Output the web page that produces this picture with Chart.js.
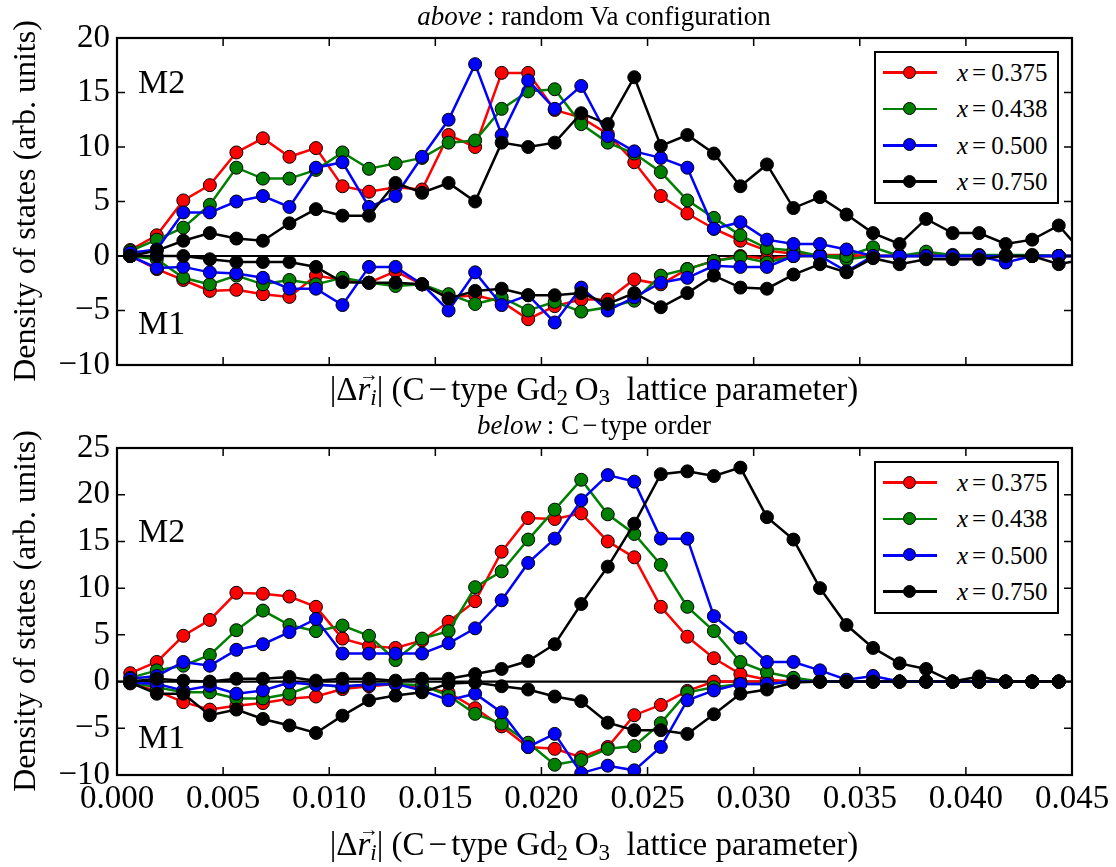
<!DOCTYPE html>
<html>
<head>
<meta charset="utf-8">
<title>Density of states</title>
<script src="https://cdn.jsdelivr.net/npm/chart.js@4.4.1/dist/chart.umd.min.js"></script>
<style>
  html, body { margin: 0; padding: 0; background: #fff; }
  body { position: relative; width: 1116px; height: 867px; overflow: hidden;
         font-family: "Liberation Serif", "Times New Roman", serif; color: #000; }
  canvas { position: absolute; left: 0; }
  .txt { position: absolute; white-space: nowrap; line-height: 1; }
  .title { font-size: 27px; transform: translateX(-50%); }
  .xlab { font-size: 33px; transform: translateX(-50%); }
  .ylab { font-size: 32px; transform: translate(-50%, -50%) rotate(-90deg); }
  .site { font-size: 34px; }
  .s { font-size: 0.7em; position: relative; top: 0.22em; }
  .op { margin: 0 0.12em; }
  .vec { position: relative; display: inline-block; }
  .arr { position: absolute; left: 0.08em; top: -0.42em; font-size: 0.6em; }
  .legend { position: absolute; width: 185px; height: 153px; box-sizing: border-box;
            border: 2px solid #000; background: #fff; }
  .row { position: absolute; left: 0; height: 30px; width: 100%; }
  .row .ln { position: absolute; left: 7px; width: 54px; top: 13.75px; height: 2.5px; }
  .row .dot { position: absolute; left: 27px; top: 8px; width: 13px; height: 13px; border-radius: 50%;
              border: 1px solid #000; box-sizing: border-box; }
  .row .lt { position: absolute; left: 81px; top: 0; height: 30px; display: flex; align-items: center;
             font-size: 25px; line-height: 1; }
  .row .eq { margin: 0 5px 0 4px; }
</style>
</head>
<body>
<canvas id="randomChart" width="1116" height="420" style="top:0;width:1116px;height:420px"></canvas>
<canvas id="orderedChart" width="1116" height="447" style="top:420px;width:1116px;height:447px"></canvas>

<div class="txt title" style="left:594px;top:3px"><i>above</i>&thinsp;: random Va configuration</div>
<div class="txt xlab" style="left:594px;top:373px">|Δ<span class="vec"><i>r</i><span class="arr">→</span></span><span class="s"><i>i</i></span>| (C<span class="op">−</span>type Gd<span class="s">2</span>&thinsp;O<span class="s">3</span>&nbsp; lattice parameter)</div>
<div class="txt title" style="left:594px;top:412px"><i>below</i>&thinsp;: C<span class="op">−</span>type order</div>
<div class="txt xlab" style="left:594px;top:828px">|Δ<span class="vec"><i>r</i><span class="arr">→</span></span><span class="s"><i>i</i></span>| (C<span class="op">−</span>type Gd<span class="s">2</span>&thinsp;O<span class="s">3</span>&nbsp; lattice parameter)</div>
<div class="txt ylab" style="left:24px;top:201px">Density of states (arb. units)</div>
<div class="txt ylab" style="left:24px;top:611px">Density of states (arb. units)</div>
<div class="txt site" style="left:138px;top:65px">M2</div>
<div class="txt site" style="left:138px;top:306px">M1</div>
<div class="txt site" style="left:138px;top:514px">M2</div>
<div class="txt site" style="left:138px;top:720px">M1</div>
<div class="legend" id="legendRandom" style="left:874px;top:51px"></div>
<div class="legend" id="legendOrdered" style="left:874px;top:461px"></div>

<script>
// Bin centres of |Δr_i| (units of the C-type Gd2O3 lattice parameter)
const binCenters = [0.000625, 0.001875, 0.003125, 0.004375, 0.005625, 0.006875, 0.008125, 0.009375,
  0.010625, 0.011875, 0.013125, 0.014375, 0.015625, 0.016875, 0.018125, 0.019375, 0.020625, 0.021875,
  0.023125, 0.024375, 0.025625, 0.026875, 0.028125, 0.029375, 0.030625, 0.031875, 0.033125, 0.034375,
  0.035625, 0.036875, 0.038125, 0.039375, 0.040625, 0.041875, 0.043125, 0.044375, 0.045625];

// Compositions shown in the legends
const concentrations = ['0.375', '0.438', '0.500', '0.750'];

// Axis ticks
const xTicks = [0, 0.005, 0.01, 0.015, 0.02, 0.025, 0.03, 0.035, 0.04, 0.045];
const yTicksRandom = [-10, -5, 0, 5, 10, 15, 20];
const yTicksOrdered = [-10, -5, 0, 5, 10, 15, 20, 25];

// Random Va configuration: M2 sites (positive) and M1 sites (plotted negative)
const randomM2_375 = [0.55, 1.9, 5.1, 6.5, 9.5, 10.8, 9.1, 9.9, 6.4, 5.9, 6.3, 6.1, 11.1, 10.0, 16.8, 16.8, 13.4, 12.7, 11.2, 8.6, 5.5, 3.9, 2.5, 1.4, 0.5, 0.2, 0.1, 0.1, 0.0, 0.0, 0.1, 0.0, 0.0, 0.0, 0.0, 0.0, 0.0];
const randomM2_438 = [0.46, 1.5, 2.6, 4.7, 8.1, 7.1, 7.1, 7.9, 9.5, 8.0, 8.5, 9.0, 10.4, 10.6, 13.5, 15.1, 15.3, 12.1, 10.4, 9.4, 7.7, 5.1, 3.5, 1.9, 0.7, 0.5, 0.0, 0.0, 0.8, 0.0, 0.4, 0.1, 0.1, 0.1, 0.1, 0.0, 0.0];
const randomM2_500 = [0.3, 0.6, 4.0, 4.0, 5.0, 5.5, 4.5, 8.1, 8.6, 4.5, 5.5, 9.1, 12.5, 17.6, 11.1, 16.1, 13.5, 15.6, 11.0, 9.6, 9.0, 8.1, 2.5, 3.1, 1.5, 1.1, 1.1, 0.6, 0.0, 0.0, 0.0, 0.0, 0.0, 0.0, 0.0, 0.0, 0.0];
const randomM2_750 = [0.0, 0.5, 1.4, 2.1, 1.6, 1.4, 3.0, 4.3, 3.7, 3.7, 6.7, 5.8, 6.7, 5.0, 10.4, 10.0, 10.4, 13.1, 12.1, 16.4, 10.1, 11.1, 9.4, 6.4, 8.4, 4.4, 5.4, 3.8, 2.1, 1.1, 3.4, 2.1, 2.1, 1.1, 1.5, 2.8, 0.0];
const randomM1_375 = [0.0, -1.2, -2.2, -3.2, -3.1, -3.5, -3.75, -1.8, -2.2, -2.45, -1.4, -2.6, -3.8, -3.6, -4.2, -5.8, -4.6, -4.0, -4.0, -2.15, -2.6, -1.2, -0.45, 0.0, -0.25, 0.0, 0.0, 0.0, 0.0, 0.0, 0.0, 0.0, 0.0, 0.0, 0.0, 0.0, 0.0];
const randomM1_438 = [0.0, -0.3, -2.0, -2.6, -1.8, -2.6, -2.2, -2.6, -2.0, -2.45, -2.75, -2.6, -3.5, -4.4, -3.8, -5.0, -4.2, -5.1, -4.7, -4.1, -1.8, -1.2, -0.45, -0.1, -0.6, 0.0, 0.0, -0.3, 0.0, 0.0, 0.0, 0.0, 0.0, 0.0, 0.0, 0.0, 0.0];
const randomM1_500 = [0.0, -1.1, -1.0, -1.5, -1.6, -2.0, -3.0, -3.0, -4.5, -1.0, -1.0, -2.6, -5.0, -1.5, -4.5, -3.6, -6.1, -2.9, -5.0, -3.8, -2.45, -2.0, -0.9, -1.0, -1.0, 0.0, 0.0, -1.4, 0.0, 0.0, 0.0, 0.0, 0.0, -0.6, 0.0, 0.0, 0.0];
const randomM1_750 = [0.0, 0.0, 0.0, -0.3, -0.55, -0.55, -0.55, -1.0, -2.4, -2.45, -2.45, -2.6, -3.9, -3.2, -3.0, -3.6, -3.6, -3.4, -4.4, -3.4, -4.7, -3.4, -1.8, -2.9, -3.0, -1.7, -0.75, -1.5, -0.2, -0.75, -0.3, -0.3, -0.3, 0.0, 0.0, -0.75, -0.3];

// C-type order: M2 sites (positive) and M1 sites (plotted negative)
const orderedM2_375 = [0.9, 2.1, 4.9, 6.6, 9.5, 9.4, 9.1, 8.0, 4.6, 3.8, 3.6, 4.4, 6.4, 8.6, 13.9, 17.5, 17.4, 18.0, 15.0, 13.3, 8.0, 4.8, 2.5, 0.8, 0.2, 0.0, 0.0, 0.0, 0.0, 0.0, 0.0, 0.0, 0.0, 0.0, 0.0, 0.0];
const orderedM2_438 = [0.4, 1.2, 1.7, 2.85, 5.5, 7.6, 6.05, 5.4, 6.0, 4.9, 2.3, 4.6, 5.4, 10.1, 11.8, 15.2, 18.4, 21.6, 17.9, 15.8, 12.5, 8.0, 5.4, 2.1, 1.0, 0.4, 0.0, 0.0, 0.0, 0.0, 0.0, 0.0, 0.0, 0.0, 0.0, 0.0];
const orderedM2_500 = [0.3, 0.6, 2.1, 1.7, 3.4, 4.0, 5.3, 6.7, 3.0, 3.0, 3.0, 3.0, 4.1, 5.7, 8.7, 12.7, 15.3, 19.4, 22.1, 21.4, 15.3, 15.3, 7.0, 4.7, 2.1, 2.1, 1.2, 0.2, 0.6, 0.0, 0.0, 0.0, 0.0, 0.0, 0.0, 0.0];
const orderedM2_750 = [0.0, 0.3, 0.1, 0.0, 0.3, 0.3, 0.5, 0.1, 0.3, 0.3, 0.1, 0.3, 0.3, 0.8, 1.35, 2.2, 4.0, 8.3, 12.3, 16.9, 22.2, 22.5, 22.0, 22.9, 17.6, 15.2, 10.0, 6.05, 3.6, 1.95, 1.35, 0.0, 0.55, 0.0, 0.0, 0.0];
const orderedM1_375 = [-0.2, -1.0, -2.2, -3.0, -2.6, -2.3, -1.85, -1.6, -0.8, -0.5, -0.25, -0.6, -1.2, -2.85, -4.8, -7.0, -7.2, -8.1, -7.0, -3.6, -2.5, -1.0, 0.0, 0.0, 0.0, 0.0, 0.0, 0.0, 0.0, 0.0, 0.0, 0.0, 0.0, 0.0, 0.0, 0.0];
const orderedM1_438 = [-0.1, -0.6, -1.15, -1.15, -1.8, -1.8, -1.3, -0.25, -0.6, -0.25, -0.25, -0.4, -1.5, -3.45, -4.5, -6.55, -8.9, -8.4, -7.2, -6.9, -4.45, -1.15, -0.6, -0.25, -0.25, 0.0, 0.0, 0.0, 0.0, 0.0, 0.0, 0.0, 0.0, 0.0, 0.0, 0.0];
const orderedM1_500 = [-0.1, -0.25, -0.95, -0.45, -1.3, -0.95, -0.1, -0.35, -0.5, -0.35, -0.25, -0.95, -2.0, -1.3, -3.3, -7.0, -5.6, -9.8, -9.0, -9.5, -7.0, -2.0, -0.95, -0.25, -0.25, 0.0, 0.0, 0.0, 0.0, 0.0, 0.0, 0.0, 0.0, 0.0, 0.0, 0.0];
const orderedM1_750 = [-0.1, -1.3, -1.3, -3.6, -3.0, -4.0, -4.7, -5.5, -3.65, -2.0, -1.5, -1.15, -0.2, -0.1, -0.5, -0.85, -1.6, -2.1, -4.4, -5.2, -5.2, -5.6, -3.5, -1.3, -0.85, -0.1, 0.0, 0.0, 0.0, 0.0, 0.0, 0.0, 0.0, 0.0, 0.0, 0.0];

// Styling
const lineColors = ['#ff0000', '#008000', '#0000ff', '#000000'];
const serif = "'Liberation Serif', 'Times New Roman', serif";
Chart.defaults.font.family = serif;
Chart.defaults.color = '#000';

function toPoints(values) {
  return values.map((v, i) => ({ x: binCenters[i], y: v }));
}

function buildDatasets(m2Series, m1Series) {
  const sets = [];
  [['M2', m2Series], ['M1', m1Series]].forEach(([site, group]) => {
    group.forEach((values, k) => {
      sets.push({
        label: site + ' x=' + concentrations[k],
        data: toPoints(values),
        borderColor: lineColors[k],
        backgroundColor: lineColors[k],
        pointBackgroundColor: lineColors[k],
        pointBorderColor: '#000',
        pointBorderWidth: 1,
        pointRadius: 6.5,
        borderWidth: 2.5,
        tension: 0,
        clip: 1,
        order: 4 - k
      });
    });
  });
  return sets;
}

// Zero line under the data, then a boxed frame with inward ticks on all four sides
const frameTicks = {
  id: 'frameTicks',
  beforeDatasetsDraw(chart) {
    const { ctx, chartArea: a, scales: { y } } = chart;
    const y0 = y.getPixelForValue(0);
    ctx.save();
    ctx.strokeStyle = '#000';
    ctx.lineWidth = 2.2;
    ctx.beginPath();
    ctx.moveTo(a.left, y0);
    ctx.lineTo(a.right, y0);
    ctx.stroke();
    ctx.restore();
  },
  afterDatasetsDraw(chart) {
    const { ctx, chartArea: a, scales: { x, y } } = chart;
    const len = 8;
    ctx.save();
    ctx.strokeStyle = '#000';
    ctx.lineWidth = 1.5;
    ctx.beginPath();
    x.ticks.forEach(t => {
      const px = x.getPixelForValue(t.value);
      ctx.moveTo(px, a.top); ctx.lineTo(px, a.top + len);
      ctx.moveTo(px, a.bottom); ctx.lineTo(px, a.bottom - len);
    });
    y.ticks.forEach(t => {
      const py = y.getPixelForValue(t.value);
      ctx.moveTo(a.left, py); ctx.lineTo(a.left + len, py);
      ctx.moveTo(a.right, py); ctx.lineTo(a.right - len, py);
    });
    ctx.stroke();
    ctx.lineWidth = 2.2;
    ctx.strokeRect(a.left, a.top, a.right - a.left, a.bottom - a.top);
    ctx.restore();
  }
};

function makeChart(id, datasets, yTicks, showXLabels, padTop, xAxisHeight) {
  return new Chart(document.getElementById(id), {
    type: 'line',
    data: { datasets },
    plugins: [frameTicks],
    options: {
      responsive: false,
      animation: false,
      events: [],
      layout: { padding: { top: padTop, right: 44, bottom: 0, left: 0 } },
      plugins: { legend: { display: false }, tooltip: { enabled: false }, title: { display: false } },
      scales: {
        x: {
          type: 'linear',
          min: xTicks[0],
          max: xTicks[xTicks.length - 1],
          afterBuildTicks: s => { s.ticks = xTicks.map(v => ({ value: v })); },
          afterFit: s => { s.height = xAxisHeight; },
          grid: { display: false, drawTicks: false },
          border: { display: false },
          ticks: {
            display: showXLabels,
            autoSkip: false,
            maxRotation: 0,
            padding: 5,
            font: { family: serif, size: 33 },
            color: '#000',
            callback: v => Number(v).toFixed(3)
          }
        },
        y: {
          min: yTicks[0],
          max: yTicks[yTicks.length - 1],
          afterBuildTicks: s => { s.ticks = yTicks.map(v => ({ value: v })); },
          afterFit: s => { s.width = 117; },
          grid: { display: false, drawTicks: false },
          border: { display: false },
          ticks: {
            padding: 7,
            font: { family: serif, size: 33 },
            color: '#000',
            callback: v => (v < 0 ? '\u2212' + Math.abs(v) : String(v))
          }
        }
      }
    }
  });
}

makeChart('randomChart',
  buildDatasets([randomM2_375, randomM2_438, randomM2_500, randomM2_750],
                [randomM1_375, randomM1_438, randomM1_500, randomM1_750]),
  yTicksRandom, false, 38, 55);

makeChart('orderedChart',
  buildDatasets([orderedM2_375, orderedM2_438, orderedM2_500, orderedM2_750],
                [orderedM1_375, orderedM1_438, orderedM1_500, orderedM1_750]),
  yTicksOrdered, true, 28, 92);

// Legends: one row per composition
function fillLegend(id) {
  const box = document.getElementById(id);
  concentrations.forEach((c, k) => {
    const row = document.createElement('div');
    row.className = 'row';
    row.style.top = (4.5 + k * 36.4) + 'px';
    row.innerHTML = '<div class="ln" style="background:' + lineColors[k] + '"></div>' +
      '<div class="dot" style="background:' + lineColors[k] + '"></div>' +
      '<div class="lt"><i>x</i><span class="eq">=</span>' + c + '</div>';
    box.appendChild(row);
  });
}
fillLegend('legendRandom');
fillLegend('legendOrdered');
</script>
</body>
</html>
